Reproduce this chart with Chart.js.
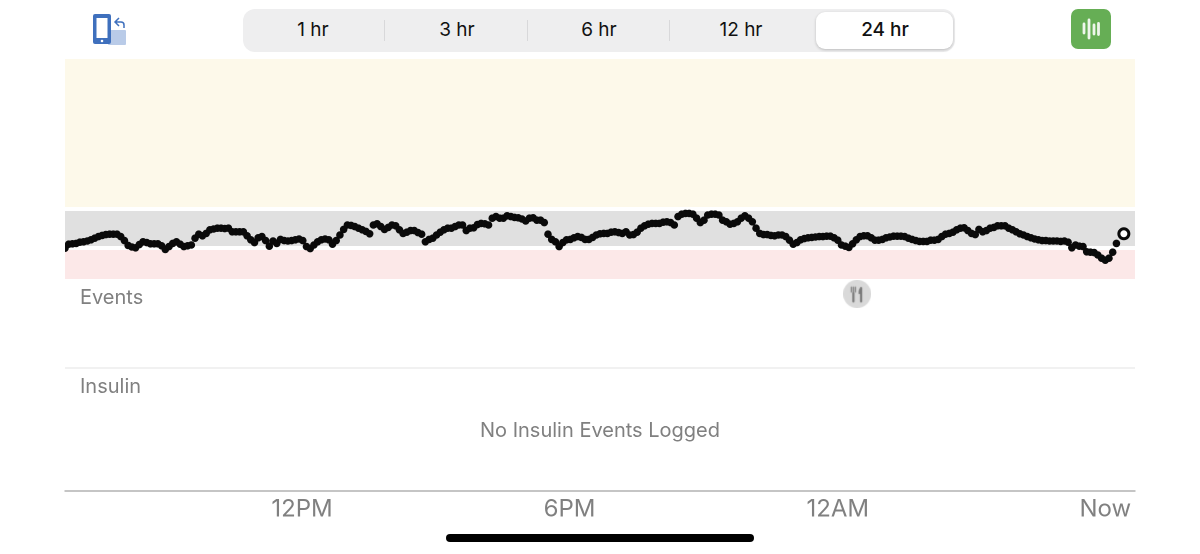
<!DOCTYPE html>
<html><head><meta charset="utf-8">
<style>
html,body{margin:0;padding:0;background:#fff;width:1200px;height:554px;overflow:hidden;font-family:Inter,"Liberation Sans",sans-serif}
canvas{position:absolute;left:0;top:0}
.abs{position:absolute}
.lane{position:absolute;color:#808080;font-size:20px;line-height:24px}
#seg{left:243px;top:9px;width:712px;height:43px;border-radius:12px;background:#eeeeef}
#sel{left:816px;top:12px;width:137px;height:37px;border-radius:9px;background:#fff;box-shadow:0 1px 3px rgba(0,0,0,.22)}
.div{position:absolute;top:20px;width:1px;height:21px;background:#d8d8da}
.seglabel{position:absolute;top:18px;width:120px;text-align:center;font-size:19px;line-height:24px;color:#111}
</style></head><body>
<canvas id="c" width="1200" height="554"></canvas>
<svg class="abs" style="left:92px;top:13px" width="36" height="34" viewBox="0 0 36 34">
 <rect x="16" y="17" width="18" height="15" rx="1" fill="#b9cbe8"/>
 <rect x="1" y="1" width="18" height="30" rx="2" fill="#3f70bd"/>
 <rect x="4.5" y="5" width="11" height="20" fill="#fff"/>
 <circle cx="10" cy="28" r="1.3" fill="#fff"/>
 <path d="M32 15v-3q0-3-3-3h-5M27 5l-4 4 4 4" fill="none" stroke="#3f70bd" stroke-width="1.5"/>
</svg>
<div id="seg" class="abs"></div>
<div class="div" style="left:384px"></div><div class="div" style="left:527px"></div><div class="div" style="left:669px"></div>
<div id="sel" class="abs"></div>
<div class="seglabel" style="left:253px">1 hr</div>
<div class="seglabel" style="left:397px">3 hr</div>
<div class="seglabel" style="left:539px">6 hr</div>
<div class="seglabel" style="left:681px">12 hr</div>
<div class="seglabel" style="left:825px;font-weight:500">24 hr</div>
<svg class="abs" style="left:1071px;top:9px" width="40" height="40" viewBox="0 0 40 40">
 <rect width="40" height="40" rx="7" fill="#66ae55"/>
 <g stroke="#eef6eb" stroke-width="2.8" stroke-linecap="round">
 <path d="M13 15v9M18 11v18M23 16v9M27.5 14.5v11"/></g>
</svg>
<div class="lane" style="left:80px;top:285px">Events</div>
<div class="lane" style="left:80px;top:374px">Insulin</div>
<div class="lane" style="left:480px;top:418px">No Insulin Events Logged</div>
<div class="abs" style="left:446px;top:534px;width:308px;height:8px;border-radius:4px;background:#000"></div>
<script src="https://cdn.jsdelivr.net/npm/chart.js@4"></script>
<script>
const glucose=[77,87,88,89,92,93,95,98,102,106,109,111,112,112,112,106,96,84,80,78,86,93,91,88,88,88,83,74,81,89,93,87,81,83,85,102,112,108,114,123,125,127,127,126,127,118,118,118,118,108,98,91,103,106,96,82,95,89,99,96,95,96,98,100,96,81,76,85,93,98,100,98,87,96,110,124,135,134,131,127,123,119,113,135,138,131,124,129,135,133,123,114,117,121,121,116,112,93,99,102,110,117,123,127,127,131,135,135,121,127,128,136,139,138,135,152,156,152,152,158,156,154,153,150,145,152,153,147,147,141,112,99,93,81,91,98,99,103,106,104,99,99,104,110,113,114,114,117,118,116,114,118,110,111,117,127,133,137,139,139,139,142,143,141,135,156,162,164,164,162,152,141,147,160,162,162,160,147,143,137,139,143,152,158,152,143,127,114,111,111,109,108,110,110,106,97,87,91,98,101,103,104,105,106,106,107,107,103,97,85,82,79,88,98,106,108,108,103,97,97,99,103,105,107,107,107,106,102,99,96,94,94,94,97,97,99,106,112,114,117,123,127,128,121,114,111,124,118,121,127,129,133,133,133,127,123,118,113,110,106,103,100,98,96,96,95,95,95,94,95,92,78,85,82,81,68,67,66,60,52,47,52,67,89,null,113];
const startMinutes=0, spanMinutes=1440, stepMinutes=5;
const tickMinutes=[319,679,1040,1400];
const tickLabels=["12PM","6PM","12AM","Now"];
const highBand=[180,550], targetBand=[82.5,170], lowBand=[0,72.5];
const yRange=[-530,550];
const mealEventMinutes=[1066];
const eventsLaneValue=-37.5, laneDividerValue=-222.5;

const points=glucose.map((v,i)=>({x:startMinutes+i*stepMinutes,y:v}));
const last=points.length-1;

function band(b,color){
  return {type:'line',data:[{x:0,y:b[1]},{x:spanMinutes,y:b[1]}],
    fill:{value:b[0]},backgroundColor:color,borderWidth:0,pointRadius:0,order:5};
}
const S=28;
const meal=document.createElement('canvas');meal.width=S;meal.height=S;
{const g=meal.getContext('2d');
 g.fillStyle='#d9d9d9';g.beginPath();g.arc(14,14,14,0,7);g.fill();
 g.strokeStyle='#7a7a7a';g.fillStyle='#7a7a7a';g.lineCap='round';
 g.lineWidth=1.2;for(const x of [8.3,10.3,12.3]){g.beginPath();g.moveTo(x,7);g.lineTo(x,12);g.stroke();}
 g.lineWidth=2.2;g.beginPath();g.moveTo(10.3,13);g.lineTo(10.3,21.5);g.stroke();
 g.beginPath();g.moveTo(18,7);g.quadraticCurveTo(15,9,15.5,14);g.lineTo(18,14);g.closePath();g.fill();
 g.beginPath();g.moveTo(18,8);g.lineTo(18,21.5);g.stroke();}

new Chart(document.getElementById('c'),{
 type:'scatter',
 data:{datasets:[
  band(highBand,'#fdf9ea'),band(targetBand,'#e0e0e0'),band(lowBand,'#fce8e8'),
  {type:'line',data:[{x:0,y:laneDividerValue},{x:spanMinutes,y:laneDividerValue}],borderColor:'#e2e2e2',borderWidth:1,pointRadius:0,fill:false,order:4},
  {data:mealEventMinutes.map(m=>({x:m,y:eventsLaneValue})),pointStyle:meal,order:3},
  {data:points,showLine:false,order:1,
   pointRadius:c=>c.dataIndex===last?5:3.8,
   pointBorderWidth:c=>c.dataIndex===last?3:0,
   pointBackgroundColor:c=>c.dataIndex===last?'#ffffff':'#0a0a0a',
   pointBorderColor:'#0a0a0a'}
 ]},
 options:{
  responsive:false,animation:false,devicePixelRatio:2,
  layout:{padding:{left:65,right:65,top:59,bottom:0}},
  plugins:{legend:{display:false},tooltip:{enabled:false}},
  scales:{
   x:{type:'linear',min:0,max:spanMinutes,
    afterBuildTicks:s=>{s.ticks=tickMinutes.map(v=>({value:v}));},
    afterFit:s=>{s.height=63;},
    grid:{display:false,drawTicks:false},
    border:{display:true,color:'#8a8a8a',width:1},
    ticks:{autoSkip:false,maxRotation:0,padding:4,color:'#808080',
      font:{family:'Inter',size:24},
      callback:v=>{const i=tickMinutes.indexOf(v);return i<0?'':tickLabels[i];}}},
   y:{display:false,min:yRange[0],max:yRange[1]}
  }
 }
});
</script>
</body></html>
